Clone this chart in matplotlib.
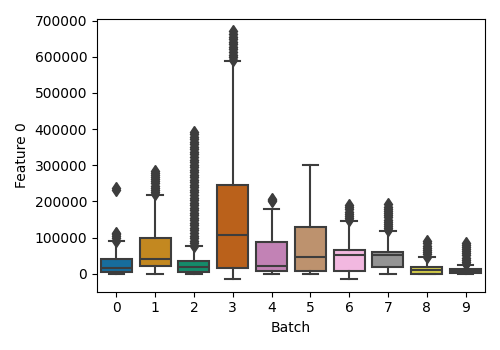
import matplotlib
matplotlib.use("Agg")
import matplotlib.pyplot as plt
import matplotlib.colors as mcolors
import colorsys

batches = ["0", "1", "2", "3", "4", "5", "6", "7", "8", "9"]
whisker_low = [0, 1000, 1000, -13000, 1000, 1000, -15000, 1000, 0, 0]
q1 = [6000, 21000, 6000, 15000, 9000, 9000, 9000, 20000, 1000, 3000]
median = [16000, 41000, 18000, 107000, 23000, 46000, 53000, 53000, 10000, 8000]
q3 = [41000, 98000, 36000, 245000, 87000, 129000, 66000, 60000, 20000, 13000]
whisker_high = [90000, 218000, 76000, 589000, 178000, 300000, 146000, 118000, 46000, 25000]
fliers = [
    [92000, 98000, 104000, 110000, 114000, 233000, 236000],
    [220000, 226000, 232000, 238000, 244000, 250000, 256000, 262000, 268000, 274000, 280000, 283000],
    [78000, 85000, 92000, 99000, 106000, 113000, 120000, 127000, 134000, 141000, 148000,
     155000, 162000, 169000, 176000, 183000, 190000, 197000, 204000, 211000, 218000,
     225000, 232000, 239000, 246000, 253000, 260000, 267000, 274000, 281000, 288000,
     295000, 302000, 309000, 316000, 323000, 330000, 337000, 344000, 351000, 358000,
     365000, 372000, 379000, 386000, 392000],
    [592000, 599000, 606000, 613000, 620000, 627000, 634000, 641000, 648000, 655000, 662000, 670000],
    [201000, 205000, 208000],
    [],
    [148000, 154000, 160000, 166000, 172000, 178000, 184000, 189000],
    [120000, 126000, 132000, 138000, 144000, 150000, 156000, 162000, 168000, 174000, 180000, 186000, 193000],
    [48000, 54000, 60000, 66000, 72000, 78000, 84000, 90000],
    [27000, 33000, 39000, 45000, 51000, 57000, 63000, 69000, 75000, 81000, 86000],
]

palette = ["#0173b2", "#de8f05", "#029e73", "#d55e00", "#cc78bc",
           "#ca9161", "#fbafe4", "#949494", "#ece133", "#56b4e9"]


def desat(c, s=0.75):
    r, g, b = mcolors.to_rgb(c)
    h, l, sat = colorsys.rgb_to_hls(r, g, b)
    return colorsys.hls_to_rgb(h, l, sat * s)


colors = [desat(c) for c in palette]
line_gray = (0.24, 0.24, 0.24)

stats = []
for i in range(len(batches)):
    stats.append(dict(whislo=whisker_low[i], q1=q1[i], med=median[i], q3=q3[i],
                      whishi=whisker_high[i], fliers=fliers[i], label=batches[i]))

fig, ax = plt.subplots(figsize=(5, 3.5), dpi=100)
lw = 1.5
bp = ax.bxp(stats, positions=range(len(batches)), widths=0.8, patch_artist=True,
            capwidths=0.4,
            boxprops=dict(edgecolor=line_gray, linewidth=lw),
            medianprops=dict(color=line_gray, linewidth=lw),
            whiskerprops=dict(color=line_gray, linewidth=lw),
            capprops=dict(color=line_gray, linewidth=lw),
            flierprops=dict(marker="d", markerfacecolor=line_gray, markeredgecolor=line_gray,
                            markersize=6, linestyle="none"))
for patch, c in zip(bp["boxes"], colors):
    patch.set_facecolor(c)

ax.set_xlim(-0.5, len(batches) - 0.5)
ax.set_ylim(-49300, 705000)
ax.set_yticks([0, 100000, 200000, 300000, 400000, 500000, 600000, 700000])
ax.set_xlabel("Batch")
ax.set_ylabel("Feature 0")
fig.tight_layout()
fig.savefig("out.png", dpi=100)
